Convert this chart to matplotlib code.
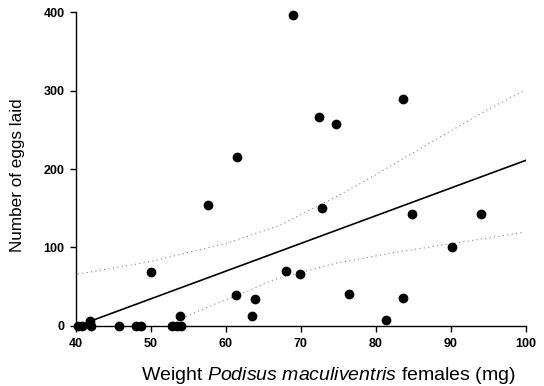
import matplotlib
matplotlib.use("Agg")
import matplotlib.pyplot as plt

plt.rcParams['font.family'] = ['Liberation Sans', 'DejaVu Sans']
plt.rcParams['mathtext.fontset'] = 'custom'
plt.rcParams['mathtext.rm'] = 'Liberation Sans'
plt.rcParams['mathtext.it'] = 'Liberation Sans:italic'

# Data
weight = [40.3, 40.8, 42.0, 41.9, 45.8, 48.1, 48.7, 50.0, 52.8, 53.5, 54.0, 53.9,
          57.7, 61.5, 61.4, 63.5, 63.9, 68.0, 69.0, 69.9, 72.5, 72.9, 74.7,
          76.4, 81.4, 83.6, 83.6, 84.8, 90.2, 94.0]
eggs = [0, 0, 0, 6, 0, 0, 0, 69, 0, 0, 0, 12,
        154, 216, 39, 13, 34, 70, 397, 66, 266, 150, 257,
        41, 8, 290, 36, 143, 101, 143]

fit_x = [40.3, 100]
fit_y = [0, 211]

upper_x = [40.3, 48.3, 50, 60, 67.2, 74.8, 78.8, 87.2, 94.8, 100]
upper_y = [66, 79, 82, 105, 128, 165, 186, 233, 275, 301]

lower_x = [52.5, 55.2, 57.9, 62.6, 66.5, 74.8, 82.8, 90.3, 99.5]
lower_y = [3, 14, 25, 43, 59, 80, 94, 105, 119]

x_ticks = [40, 50, 60, 70, 80, 90, 100]
y_ticks = [0, 100, 200, 300, 400]

fig = plt.figure(figsize=(5.44, 3.86), dpi=100)
ax = fig.add_axes([0.139, 0.156, 0.827, 0.812])

ax.plot(upper_x, upper_y, color='#888888', linestyle=(0, (1, 3)), linewidth=0.8)
ax.plot(lower_x, lower_y, color='#888888', linestyle=(0, (1, 3)), linewidth=0.8)
ax.plot(fit_x, fit_y, color='black', linewidth=1.2)
ax.scatter(weight, eggs, s=36, color='black', zorder=3, clip_on=False)

ax.set_xlim(40, 100)
ax.set_ylim(0, 400)
ax.set_xticks(x_ticks)
ax.set_yticks(y_ticks)
ax.spines['top'].set_visible(False)
ax.spines['right'].set_visible(False)
for s in ('left', 'bottom'):
    ax.spines[s].set_linewidth(1.0)
ax.tick_params(direction='out', length=4, width=1, labelsize=9)
ax.tick_params(axis='x', pad=5)
ax.tick_params(axis='y', pad=4)
for lbl in ax.get_xticklabels() + ax.get_yticklabels():
    lbl.set_fontweight('bold')

ax.set_xlabel('Weight $\\it{Podisus\\ maculiventris}$ females (mg)', fontsize=14)
ax.set_ylabel('Number of eggs laid', fontsize=12.3)
ax.xaxis.set_label_coords(0.561, -0.125)
ax.yaxis.set_label_coords(-0.113, 0.48)

fig.savefig('out.png', dpi=100)
